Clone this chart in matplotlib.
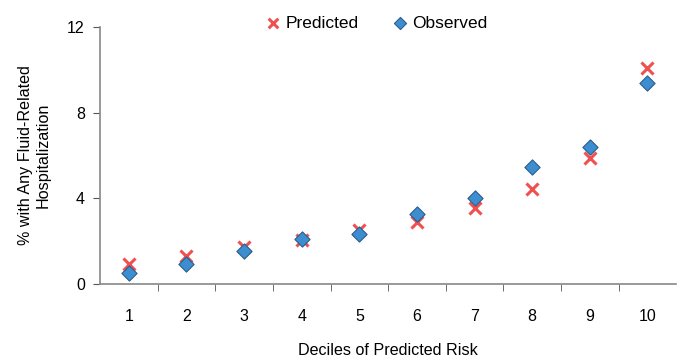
import matplotlib
matplotlib.use("Agg")
import matplotlib.pyplot as plt
import numpy as np

plt.rcParams['font.family'] = ['Liberation Sans', 'DejaVu Sans']

deciles = [1, 2, 3, 4, 5, 6, 7, 8, 9, 10]
predicted = [0.92, 1.31, 1.71, 2.05, 2.50, 2.91, 3.54, 4.42, 5.87, 10.08]
observed = [0.53, 0.92, 1.56, 2.09, 2.32, 3.26, 4.03, 5.48, 6.42, 9.38]
yticks = [0, 4, 8, 12]

fig = plt.figure(figsize=(6.9, 3.6), dpi=100)
ax = fig.add_axes([0.145, 0.211, 0.835, 0.714])

ax.scatter(deciles, predicted, marker='x', s=75, color='#F0504F', linewidths=2.2,
           label='Predicted', zorder=3)
ax.scatter(deciles, observed, marker='D', s=60, color='#3C8ED0', edgecolors='#2B5E8A',
           linewidths=0.8, label='Observed', zorder=4)

ax.set_xlim(0.5, 10.5)
ax.set_ylim(0, 12)
ax.set_yticks(yticks)
ax.set_xticks(deciles)
ax.set_xticks(np.arange(1.5, 10.5, 1), minor=True)
ax.tick_params(axis='x', which='major', length=0, pad=18, labelsize=11.5)
ax.tick_params(axis='x', which='minor', length=5, direction='out', color='#555555')
ax.tick_params(axis='y', length=5, direction='out', color='#555555', labelsize=11.5, pad=6)

for s in ['top', 'right']:
    ax.spines[s].set_visible(False)
for s in ['left', 'bottom']:
    ax.spines[s].set_color('#888888')
    ax.spines[s].set_linewidth(1.2)

ax.set_xlabel('Deciles of Predicted Risk', fontsize=11.6, labelpad=14)
ax.set_ylabel('% with Any Fluid-Related\nHospitalization', fontsize=11.6, labelpad=12)

ax.legend(loc='upper center', bbox_to_anchor=(0.472, 1.105), ncol=2, frameon=False,
          fontsize=12.5, handletextpad=-0.3, columnspacing=1.4, markerscale=0.8)

fig.savefig('out.png', dpi=100)
